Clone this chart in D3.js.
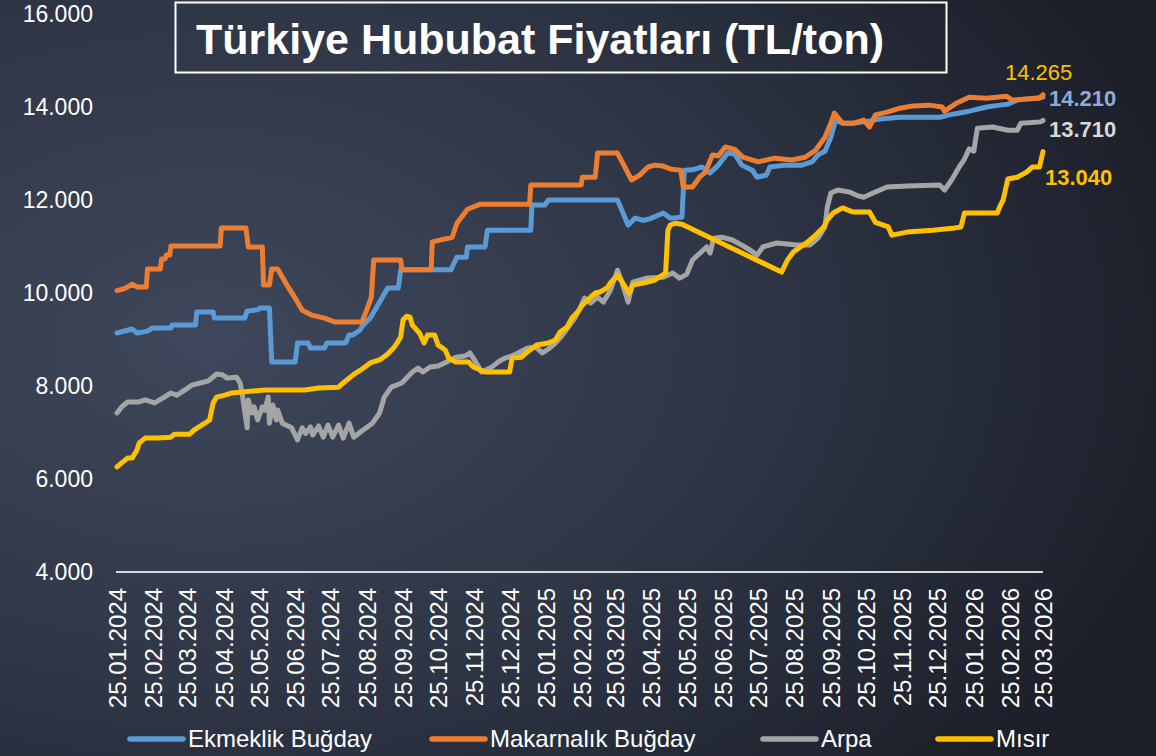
<!DOCTYPE html>
<html>
<head>
<meta charset="utf-8">
<script src="https://cdn.jsdelivr.net/npm/d3@7"></script>
<style>
  html, body { margin: 0; padding: 0; background: #2a3040; }
  body { width: 1156px; height: 756px; overflow: hidden; font-family: "Liberation Sans", Arial, sans-serif; }
</style>
</head>
<body>
<script>
const W = 1156, H = 756;

// tick labels
const xTickLabels = [
  '25.01.2024', '25.02.2024', '25.03.2024', '25.04.2024', '25.05.2024', '25.06.2024',
  '25.07.2024', '25.08.2024', '25.09.2024', '25.10.2024', '25.11.2024', '25.12.2024',
  '25.01.2025', '25.02.2025', '25.03.2025', '25.04.2025', '25.05.2025', '25.06.2025',
  '25.07.2025', '25.08.2025', '25.09.2025', '25.10.2025', '25.11.2025', '25.12.2025',
  '25.01.2026', '25.02.2026', '25.03.2026'
];
const yTicks = [4000, 6000, 8000, 10000, 12000, 14000, 16000];

const seriesNames = ['Ekmeklik Buğday', 'Makarnalık Buğday', 'Arpa', 'Mısır'];
const seriesColors = ['#5B9BD5', '#ED7D31', '#A5A5A5', '#FFC000'];

// TL/ton
const ekmeklik = [
  ['25.01.2024', 9140], ['07.02.2024', 9225], ['11.02.2024', 9140], ['20.02.2024', 9180],
  ['24.02.2024', 9245], ['11.03.2024', 9245], ['12.03.2024', 9310], ['01.04.2024', 9310],
  ['02.04.2024', 9590], ['16.04.2024', 9590], ['17.04.2024', 9460], ['13.05.2024', 9460],
  ['15.05.2024', 9610], ['24.05.2024', 9640], ['26.05.2024', 9675], ['03.06.2024', 9675],
  ['05.06.2024', 8515], ['25.06.2024', 8515], ['27.06.2024', 8925], ['06.07.2024', 8925],
  ['08.07.2024', 8815], ['20.07.2024', 8815], ['22.07.2024', 8925], ['07.08.2024', 8925],
  ['10.08.2024', 9095], ['13.08.2024', 9095], ['19.08.2024', 9200], ['22.08.2024', 9310],
  ['28.08.2024', 9460], ['01.09.2024', 9630], ['06.09.2024', 9850], ['12.09.2024', 10110],
  ['21.09.2024', 10110], ['23.09.2024', 10500], ['05.11.2024', 10500], ['06.11.2024', 10560],
  ['10.11.2024', 10770], ['18.11.2024', 10770], ['19.11.2024', 10990], ['04.12.2024', 10990],
  ['06.12.2024', 11350], ['12.01.2025', 11350], ['13.01.2025', 11890], ['24.01.2025', 11890],
  ['27.01.2025', 12000], ['27.03.2025', 12000], ['05.04.2025', 11460], ['11.04.2025', 11610],
  ['18.04.2025', 11560], ['24.04.2025', 11600], ['05.05.2025', 11720], ['11.05.2025', 11610],
  ['21.05.2025', 11630], ['23.05.2025', 12640], ['30.05.2025', 12650], ['07.06.2025', 12710],
  ['14.06.2025', 12580], ['21.06.2025', 12750], ['29.06.2025', 13010], ['05.07.2025', 12990],
  ['11.07.2025', 12750], ['20.07.2025', 12640], ['24.07.2025', 12490], ['01.08.2025', 12535],
  ['04.08.2025', 12710], ['17.08.2025', 12750], ['31.08.2025', 12750], ['09.09.2025', 12820],
  ['14.09.2025', 12970], ['20.09.2025', 13050], ['25.09.2025', 13350], ['29.09.2025', 13720],
  ['05.10.2025', 13650], ['14.10.2025', 13650], ['23.10.2025', 13680], ['06.11.2025', 13740],
  ['23.11.2025', 13780], ['27.12.2025', 13780], ['04.01.2026', 13830], ['13.01.2026', 13870],
  ['21.01.2026', 13910], ['05.02.2026', 14000], ['16.02.2026', 14040], ['23.02.2026', 14060],
  ['03.03.2026', 14150], ['14.03.2026', 14180], ['25.03.2026', 14210]
];

const makarnalik = [
  ['25.01.2024', 10050], ['01.02.2024', 10100], ['07.02.2024', 10190], ['11.02.2024', 10130],
  ['19.02.2024', 10130], ['20.02.2024', 10515], ['02.03.2024', 10515], ['03.03.2024', 10730],
  ['06.03.2024', 10730], ['07.03.2024', 10815], ['10.03.2024', 10815], ['11.03.2024', 11010],
  ['22.04.2024', 11010], ['23.04.2024', 11400], ['14.05.2024', 11400], ['16.05.2024', 10990],
  ['28.05.2024', 10990], ['29.05.2024', 10170], ['03.06.2024', 10170], ['05.06.2024', 10515],
  ['10.06.2024', 10515], ['18.06.2024', 10170], ['25.06.2024', 9890], ['01.07.2024', 9630],
  ['09.07.2024', 9525], ['20.07.2024', 9460], ['29.07.2024', 9375], ['21.08.2024', 9375],
  ['25.08.2024', 9630], ['29.08.2024', 9910], ['31.08.2024', 10710], ['23.09.2024', 10710],
  ['24.09.2024', 10500], ['19.10.2024', 10500], ['20.10.2024', 11100], ['06.11.2024', 11200],
  ['10.11.2024', 11500], ['19.11.2024', 11800], ['30.11.2024', 11910], ['11.01.2025', 11910],
  ['12.01.2025', 12320], ['24.02.2025', 12320], ['25.02.2025', 12490], ['08.03.2025', 12490],
  ['10.03.2025', 13010], ['27.03.2025', 13010], ['08.04.2025', 12430], ['15.04.2025', 12535],
  ['22.04.2025', 12710], ['28.04.2025', 12750], ['05.05.2025', 12730], ['12.05.2025', 12660],
  ['20.05.2025', 12640], ['22.05.2025', 12280], ['30.05.2025', 12280], ['05.06.2025', 12490],
  ['10.06.2025', 12600], ['16.06.2025', 12970], ['21.06.2025', 12950], ['27.06.2025', 13140],
  ['05.07.2025', 13090], ['12.07.2025', 12920], ['25.07.2025', 12820], ['08.08.2025', 12900],
  ['23.08.2025', 12860], ['03.09.2025', 12920], ['12.09.2025', 13070], ['20.09.2025', 13350],
  ['25.09.2025', 13650], ['28.09.2025', 13870], ['05.10.2025', 13650], ['14.10.2025', 13650],
  ['23.10.2025', 13720], ['28.10.2025', 13570], ['02.11.2025', 13830], ['12.11.2025', 13890],
  ['23.11.2025', 13975], ['04.12.2025', 14020], ['18.12.2025', 14040], ['29.12.2025', 14000],
  ['31.12.2025', 13910], ['10.01.2026', 14080], ['21.01.2026', 14210], ['05.02.2026', 14190],
  ['22.02.2026', 14230], ['27.02.2026', 14150], ['22.03.2026', 14190], ['25.03.2026', 14265]
];

const arpa = [
  ['25.01.2024', 7420], ['29.01.2024', 7550], ['03.02.2024', 7655], ['12.02.2024', 7655],
  ['18.02.2024', 7700], ['26.02.2024', 7635], ['04.03.2024', 7740], ['11.03.2024', 7850],
  ['16.03.2024', 7800], ['23.03.2024', 7915], ['29.03.2024', 8020], ['05.04.2024', 8065],
  ['12.04.2024', 8110], ['19.04.2024', 8260], ['24.04.2024', 8240], ['28.04.2024', 8170],
  ['06.05.2024', 8190], ['09.05.2024', 8065], ['11.05.2024', 7800], ['15.05.2024', 7100],
  ['16.05.2024', 7700], ['19.05.2024', 7420], ['21.05.2024', 7550], ['24.05.2024', 7270],
  ['28.05.2024', 7550], ['30.05.2024', 7480], ['02.06.2024', 7760], ['03.06.2024', 7200],
  ['06.06.2024', 7590], ['09.06.2024', 7270], ['10.06.2024', 7485], ['14.06.2024', 7200],
  ['22.06.2024', 7100], ['27.06.2024', 6840], ['01.07.2024', 7100], ['04.07.2024', 6980],
  ['08.07.2024', 7120], ['10.07.2024', 6945], ['15.07.2024', 7140], ['19.07.2024', 6900],
  ['23.07.2024', 7160], ['27.07.2024', 6900], ['01.08.2024', 7160], ['05.08.2024', 6880],
  ['10.08.2024', 7200], ['14.08.2024', 6900], ['22.08.2024', 7055], ['30.08.2024', 7200],
  ['05.09.2024', 7420], ['09.09.2024', 7760], ['15.09.2024', 7975], ['24.09.2024', 8065],
  ['03.10.2024', 8300], ['08.10.2024', 8385], ['12.10.2024', 8300], ['18.10.2024', 8410],
  ['25.10.2024', 8430], ['03.11.2024', 8540], ['09.11.2024', 8620], ['17.11.2024', 8645],
  ['21.11.2024', 8710], ['25.11.2024', 8560], ['01.12.2024', 8300], ['10.12.2024', 8410],
  ['15.12.2024', 8515], ['21.12.2024', 8600], ['27.12.2024', 8645], ['01.01.2025', 8710],
  ['09.01.2025', 8815], ['16.01.2025', 8840], ['22.01.2025', 8710], ['27.01.2025', 8795],
  ['02.02.2025', 8925], ['08.02.2025', 9095], ['13.02.2025', 9270], ['19.02.2025', 9480],
  ['23.02.2025', 9675], ['27.02.2025', 9890], ['04.03.2025', 9785], ['10.03.2025', 9910],
  ['15.03.2025', 9805], ['21.03.2025', 10060], ['27.03.2025', 10490], ['31.03.2025', 10215],
  ['05.04.2025', 9805], ['09.04.2025', 10235], ['21.04.2025', 10320], ['05.05.2025', 10340],
  ['13.05.2025', 10430], ['19.05.2025', 10320], ['25.05.2025', 10400], ['30.05.2025', 10710],
  ['05.06.2025', 10850], ['11.06.2025', 10990], ['14.06.2025', 10860], ['17.06.2025', 11180],
  ['24.06.2025', 11200], ['03.07.2025', 11140], ['11.07.2025', 11030], ['18.07.2025', 10925],
  ['24.07.2025', 10815], ['29.07.2025', 10990], ['10.08.2025', 11075], ['27.08.2025', 11030],
  ['07.09.2025', 11030], ['14.09.2025', 11180], ['20.09.2025', 11420], ['22.09.2025', 11850],
  ['25.09.2025', 12150], ['01.10.2025', 12215], ['11.10.2025', 12170], ['17.10.2025', 12100],
  ['23.10.2025', 12060], ['31.10.2025', 12150], ['12.11.2025', 12280], ['29.11.2025', 12300],
  ['27.12.2025', 12320], ['31.12.2025', 12215], ['06.01.2026', 12430], ['12.01.2026', 12690],
  ['17.01.2026', 12880], ['21.01.2026', 13100], ['25.01.2026', 13050], ['28.01.2026', 13545],
  ['10.02.2026', 13570], ['23.02.2026', 13500], ['03.03.2026', 13500], ['06.03.2026', 13650],
  ['23.03.2026', 13680], ['25.03.2026', 13710]
];

const misir = [
  ['25.01.2024', 6260], ['29.01.2024', 6345], ['03.02.2024', 6450], ['07.02.2024', 6450],
  ['11.02.2024', 6625], ['13.02.2024', 6775], ['18.02.2024', 6880], ['29.02.2024', 6880],
  ['11.03.2024', 6900], ['14.03.2024', 6965], ['27.03.2024', 6965], ['31.03.2024', 7055],
  ['09.04.2024', 7200], ['13.04.2024', 7270], ['16.04.2024', 7635], ['19.04.2024', 7760],
  ['26.04.2024', 7805], ['02.05.2024', 7850], ['11.05.2024', 7870], ['30.05.2024', 7915],
  ['03.07.2024', 7915], ['15.07.2024', 7955], ['01.08.2024', 7975], ['05.08.2024', 8065],
  ['14.08.2024', 8250], ['20.08.2024', 8345], ['28.08.2024', 8495], ['05.09.2024', 8560],
  ['12.09.2024', 8690], ['18.09.2024', 8850], ['23.09.2024', 9050], ['25.09.2024', 9420],
  ['28.09.2024', 9500], ['01.10.2024', 9480], ['03.10.2024', 9310], ['09.10.2024', 9140],
  ['13.10.2024', 8925], ['16.10.2024', 9095], ['22.10.2024', 9095], ['25.10.2024', 8880],
  ['31.10.2024', 8775], ['03.11.2024', 8600], ['09.11.2024', 8515], ['20.11.2024', 8515],
  ['24.11.2024', 8410], ['04.12.2024', 8300], ['25.12.2024', 8300], ['27.12.2024', 8600],
  ['04.01.2025', 8620], ['09.01.2025', 8730], ['17.01.2025', 8880], ['27.01.2025', 8925],
  ['02.02.2025', 8990], ['06.02.2025', 9160], ['12.02.2025', 9270], ['16.02.2025', 9460],
  ['21.02.2025', 9590], ['25.02.2025', 9740], ['04.03.2025', 9910], ['08.03.2025', 10000],
  ['12.03.2025', 10020], ['18.03.2025', 10110], ['21.03.2025', 10215], ['27.03.2025', 10385],
  ['31.03.2025', 10235], ['06.04.2025', 10000], ['09.04.2025', 10170], ['18.04.2025', 10215],
  ['28.04.2025', 10280], ['07.05.2025', 10430], ['09.05.2025', 11350], ['11.05.2025', 11460],
  ['15.05.2025', 11500], ['21.05.2025', 11480], ['14.08.2025', 10450], ['19.08.2025', 10710],
  ['24.08.2025', 10880], ['30.08.2025', 10990], ['05.09.2025', 11095], ['12.09.2025', 11245],
  ['19.09.2025', 11420], ['22.09.2025', 11570], ['27.09.2025', 11720], ['05.10.2025', 11830],
  ['14.10.2025', 11740], ['28.10.2025', 11740], ['02.11.2025', 11520], ['13.11.2025', 11420],
  ['16.11.2025', 11245], ['29.11.2025', 11310], ['21.12.2025', 11350], ['09.01.2026', 11400],
  ['14.01.2026', 11420], ['17.01.2026', 11720], ['14.02.2026', 11720], ['16.02.2026', 11850],
  ['19.02.2026', 12000], ['23.02.2026', 12450], ['03.03.2026', 12490], ['11.03.2026', 12600],
  ['16.03.2026', 12710], ['22.03.2026', 12710], ['25.03.2026', 13040]
];

const endLabels = ['14.210', '14.265', '13.710', '13.040'];
const allSeries = [ekmeklik, makarnalik, arpa, misir];

const parse = d3.timeParse('%d.%m.%Y');
const trLocale = d3.formatLocale({ decimal: ',', thousands: '.', grouping: [3], currency: ['', ' TL'] });
const fmt = trLocale.format(',.0f');

const svg = d3.select('body').append('svg')
  .attr('width', W)
  .attr('height', H);

// background
const defs = svg.append('defs');
const grad = defs.append('radialGradient')
  .attr('id', 'bg')
  .attr('cx', '18%').attr('cy', '45%').attr('r', '90%');
grad.append('stop').attr('offset', '0%').attr('stop-color', '#3e475b');
grad.append('stop').attr('offset', '50%').attr('stop-color', '#2f3646');
grad.append('stop').attr('offset', '100%').attr('stop-color', '#1b1e28');
svg.append('rect').attr('width', W).attr('height', H).attr('fill', 'url(#bg)');

let x = d3.scaleTime()
  .domain([parse(xTickLabels[0]), parse(xTickLabels[xTickLabels.length - 1])])
  .range([117, 1043]);

let y = d3.scaleLinear()
  .domain([4000, 16000])
  .range([572, 14]);

// y axis, labels only
svg.append('g')
  .attr('transform', 'translate(116,0)')
  .call(d3.axisLeft(y).tickValues(yTicks).tickFormat(fmt).tickSize(0).tickPadding(23))
  .call(g => g.select('.domain').remove())
  .selectAll('text')
  .attr('fill', '#ffffff')
  .style('font-size', '23px')
  .style('font-family', '"Liberation Sans", Arial, sans-serif');

// x axis
const xAxis = svg.append('g')
  .attr('transform', 'translate(0,572)')
  .call(d3.axisBottom(x).tickValues(xTickLabels.map(parse)).tickFormat(d3.timeFormat('%d.%m.%Y')).tickSize(0));
xAxis.select('.domain')
  .attr('d', 'M116,0H1043')
  .attr('stroke', '#d9d9d9')
  .attr('stroke-width', 2);
xAxis.selectAll('text')
  .attr('fill', '#ffffff')
  .style('font-size', '24px')
  .style('font-family', '"Liberation Sans", Arial, sans-serif')
  .attr('transform', 'rotate(-90)')
  .attr('text-anchor', 'end')
  .attr('x', -16)
  .attr('y', 0)
  .attr('dy', '0.35em');

// lines
const line = d3.line()
  .x(d => x(parse(d[0])))
  .y(d => y(d[1]));

svg.selectAll('.series')
  .data(allSeries)
  .enter()
  .append('path')
  .attr('class', 'series')
  .attr('d', line)
  .attr('fill', 'none')
  .attr('stroke', (d, i) => seriesColors[i])
  .attr('stroke-width', 5)
  .attr('stroke-linejoin', 'round')
  .attr('stroke-linecap', 'round');

// end-of-line value labels
const endStyle = [
  { dx: 6, dy: 9, color: '#8faadc', weight: 'bold' },
  { dx: -38, dy: -15, color: '#ffc000', weight: 'normal' },
  { dx: 6, dy: 16.5, color: '#d9d9d9', weight: 'bold' },
  { dx: 2, dy: 33, color: '#ffc000', weight: 'bold' }
];
allSeries.forEach((s, i) => {
  const last = s[s.length - 1];
  svg.append('text')
    .attr('x', x(parse(last[0])) + endStyle[i].dx)
    .attr('y', y(last[1]) + endStyle[i].dy)
    .attr('fill', endStyle[i].color)
    .attr('font-weight', endStyle[i].weight)
    .style('font-size', '22px')
    .text(endLabels[i]);
});

// title
svg.append('rect')
  .attr('x', 175.5).attr('y', 2.5)
  .attr('width', 771).attr('height', 70)
  .attr('fill', 'none')
  .attr('stroke', '#ffffff')
  .attr('stroke-width', 2);
svg.append('text')
  .attr('x', 196).attr('y', 54)
  .attr('fill', '#ffffff')
  .attr('font-weight', 'bold')
  .style('font-size', '43px')
  .text('Türkiye Hububat Fiyatları (TL/ton)');

// legend
const legendX = [130, 432, 763, 938];
const legend = svg.selectAll('.legend')
  .data(seriesNames)
  .enter()
  .append('g')
  .attr('class', 'legend')
  .attr('transform', (d, i) => `translate(${legendX[i]},739)`);
legend.append('line')
  .attr('x1', 0).attr('x2', 53)
  .attr('stroke', (d, i) => seriesColors[i])
  .attr('stroke-width', 5.5)
  .attr('stroke-linecap', 'round');
legend.append('text')
  .attr('x', 58).attr('y', 8)
  .attr('fill', '#ffffff')
  .style('font-size', '24px')
  .text(d => d);
</script>
</body>
</html>
